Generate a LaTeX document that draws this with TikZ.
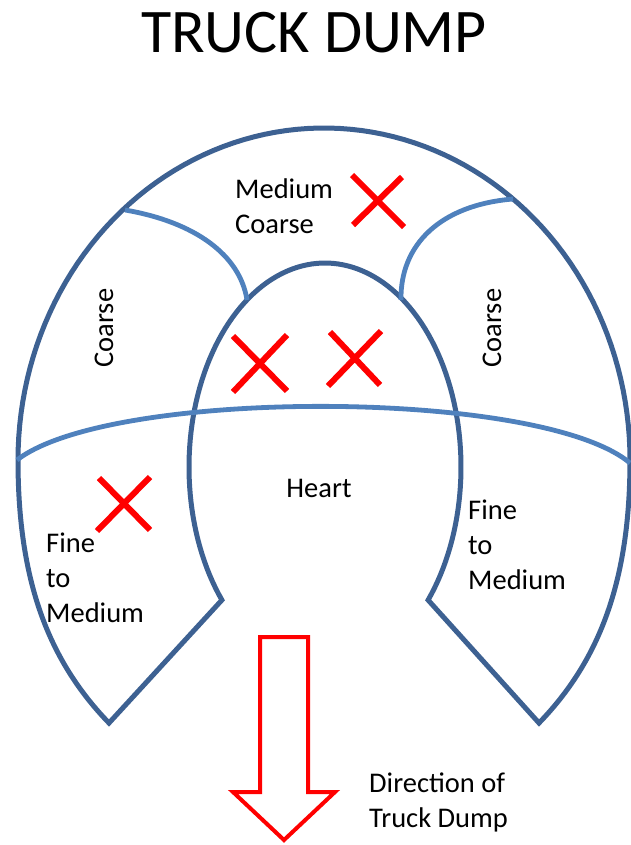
\documentclass[tikz,border=0pt]{standalone}
\usepackage{fontspec}
\setmainfont{Carlito}
\definecolor{outl}{HTML}{3D6192}
\definecolor{divb}{HTML}{4F81BD}
\begin{document}
\begin{tikzpicture}[x=1pt,y=-1pt,
  outline/.style={draw=outl,line width=5pt,line join=miter},
  divider/.style={draw=divb,line width=4.8pt},
  xmark/.style={draw=red,line width=6pt},
  lbl/.style={font=\fontsize{28.5}{35}\selectfont,inner sep=0pt,align=left}]
\useasboundingbox (0,0) rectangle (631,845);
\node[font=\fontsize{62}{74}\selectfont,inner sep=0pt,anchor=base] (title) at (314,53) {TRUCK DUMP};
% outline of the pile
\path[outline] (109,723) .. controls (48,660) and (18,580) .. (18,460)
  -- plot[domain=0:180,samples=90] ({324-306*cos(\x)},{460-332*sin(\x)})
  .. controls (630,580) and (600,660) .. (539,723)
  -- plot[domain=-40.7:220.7,samples=120] ({325+136*cos(\x)},{467-204*sin(\x)})
  -- cycle;
% dividers
\draw[divider] (17,460) .. controls (110,388) and (540,388) .. (630,463);
\draw[divider] (125,210) .. controls (195,222) and (240,255) .. (247,300);
\draw[divider] (513,199) .. controls (440,205) and (400,245) .. (401,300);
% labels
\node[lbl,anchor=base west] (mc) at (235,233) {Medium\\Coarse};
\node[lbl,rotate=90] (coarseL) at (104,328) {Coarse};
\node[lbl,rotate=90] (coarseR) at (492,328) {Coarse};
\node[lbl,anchor=base] (heart) at (319,497) {Heart};
\node[lbl,anchor=base west] (fineL) at (46,622) {Fine\\to\\Medium};
\node[lbl,anchor=base west] (fineR) at (468,589) {Fine\\to\\Medium};
\node[lbl,anchor=base west] (dir) at (369,827) {Direction of\\Truck Dump};
% X marks
\draw[xmark] (352,175) -- (404,227) (402,177) -- (353,225);
\draw[xmark] (233,336) -- (287,391) (287,335) -- (233,392);
\draw[xmark] (330,332) -- (380,385) (381,331) -- (328,386);
\draw[xmark] (99,478) -- (150,530) (150,477) -- (97,531);
% arrow
\draw[draw=red,line width=4pt,line join=miter] (260,637) -- (308,637) -- (308,792) -- (335,792) -- (284,840) -- (233,792) -- (260,792) -- cycle;
\end{tikzpicture}
\end{document}
